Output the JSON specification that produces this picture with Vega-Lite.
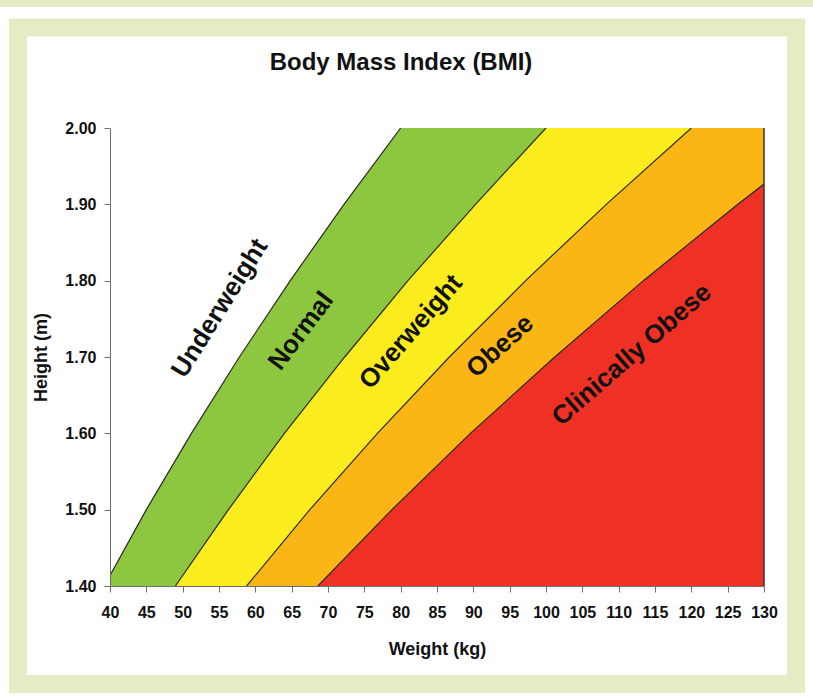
{
  "$schema": "https://vega.github.io/schema/vega-lite/v6.json",
  "width": 654,
  "height": 458,
  "autosize": {"type": "none"},
  "padding": {"left": 110, "top": 128, "right": 49, "bottom": 114},
  "background": "#ffffff",
  "title": {
    "text": "Body Mass Index (BMI)",
    "font": "Liberation Sans",
    "fontSize": 24,
    "fontWeight": "bold",
    "color": "#111111",
    "anchor": "middle",
    "frame": "group",
    "dx": -36,
    "baseline": "alphabetic",
    "offset": -94,
    "zindex": 1
  },
  "config": {
    "view": {"stroke": null},
    "font": "Liberation Sans",
    "axis": {
      "grid": false,
      "domainColor": "#6e6e6e",
      "tickColor": "#6e6e6e",
      "tickSize": 6,
      "labelFont": "Liberation Sans",
      "labelFontWeight": "bold",
      "labelFontSize": 16,
      "labelColor": "#111111",
      "titleFont": "Liberation Sans",
      "titleFontWeight": "bold",
      "titleFontSize": 18,
      "titleColor": "#111111"
    }
  },
  "datasets": {
    "bmi": [
      {"bmi": 20, "height": 1.4, "weight": 39.2},
      {"bmi": 20, "height": 1.5, "weight": 45.0},
      {"bmi": 20, "height": 1.6, "weight": 51.2},
      {"bmi": 20, "height": 1.7, "weight": 57.8},
      {"bmi": 20, "height": 1.8, "weight": 64.8},
      {"bmi": 20, "height": 1.9, "weight": 72.2},
      {"bmi": 20, "height": 2.0, "weight": 80.0},
      {"bmi": 25, "height": 1.4, "weight": 49.0},
      {"bmi": 25, "height": 1.5, "weight": 56.3},
      {"bmi": 25, "height": 1.6, "weight": 64.0},
      {"bmi": 25, "height": 1.7, "weight": 72.3},
      {"bmi": 25, "height": 1.8, "weight": 81.0},
      {"bmi": 25, "height": 1.9, "weight": 90.3},
      {"bmi": 25, "height": 2.0, "weight": 100.0},
      {"bmi": 30, "height": 1.4, "weight": 58.8},
      {"bmi": 30, "height": 1.5, "weight": 67.5},
      {"bmi": 30, "height": 1.6, "weight": 76.8},
      {"bmi": 30, "height": 1.7, "weight": 86.7},
      {"bmi": 30, "height": 1.8, "weight": 97.2},
      {"bmi": 30, "height": 1.9, "weight": 108.3},
      {"bmi": 30, "height": 2.0, "weight": 120.0},
      {"bmi": 35, "height": 1.4, "weight": 68.6},
      {"bmi": 35, "height": 1.5, "weight": 78.8},
      {"bmi": 35, "height": 1.6, "weight": 89.6},
      {"bmi": 35, "height": 1.7, "weight": 101.2},
      {"bmi": 35, "height": 1.8, "weight": 113.4},
      {"bmi": 35, "height": 1.9, "weight": 126.4},
      {"bmi": 35, "height": 2.0, "weight": 140.0}
    ],
    "labels": [
      {"label": "Underweight", "weight": 55.1, "height": 1.764},
      {"label": "Normal", "weight": 66.3, "height": 1.734},
      {"label": "Overweight", "weight": 81.4, "height": 1.733},
      {"label": "Obese", "weight": 93.7, "height": 1.714},
      {"label": "Clinically Obese", "weight": 111.8, "height": 1.703}
    ]
  },
  "layer": [
    {
      "encoding": {
        "x": {
          "field": "weight",
          "type": "quantitative",
          "scale": {"domain": [40, 130], "nice": false, "zero": false},
          "title": "Weight (kg)",
          "axis": {
            "values": [40, 45, 50, 55, 60, 65, 70, 75, 80, 85, 90, 95, 100, 105, 110, 115, 120, 125, 130],
            "labelPadding": 12,
            "titlePadding": 20,
            "labelFlush": false,
            "labelOverlap": false,
            "zindex": 2
          }
        },
        "y": {
          "field": "height",
          "type": "quantitative",
          "scale": {"domain": [1.4, 2.0], "nice": false, "zero": false},
          "title": "Height (m)",
          "axis": {
            "values": [1.4, 1.5, 1.6, 1.7, 1.8, 1.9, 2.0],
            "format": ".2f",
            "labelPadding": 8,
            "titlePadding": 14,
            "labelFlush": false,
            "labelOverlap": false,
            "zindex": 2
          }
        }
      },
      "layer": [
        {
          "data": {"name": "bmi"},
          "transform": [{"filter": "datum.bmi == 20"}],
          "mark": {"type": "area", "orient": "horizontal", "color": "#8dc63f", "clip": true},
          "encoding": {"x2": {"datum": 145}}
        },
        {
          "data": {"name": "bmi"},
          "transform": [{"filter": "datum.bmi == 25"}],
          "mark": {"type": "area", "orient": "horizontal", "color": "#fbed1d", "clip": true},
          "encoding": {"x2": {"datum": 145}}
        },
        {
          "data": {"name": "bmi"},
          "transform": [{"filter": "datum.bmi == 30"}],
          "mark": {"type": "area", "orient": "horizontal", "color": "#fbb616", "clip": true},
          "encoding": {"x2": {"datum": 145}}
        },
        {
          "data": {"name": "bmi"},
          "transform": [{"filter": "datum.bmi == 35"}],
          "mark": {"type": "area", "orient": "horizontal", "color": "#ee3124", "clip": true},
          "encoding": {"x2": {"datum": 145}}
        },
        {
          "data": {"name": "bmi"},
          "mark": {"type": "line", "color": "#2a2a2a", "strokeWidth": 1.2, "clip": true},
          "encoding": {
            "detail": {"field": "bmi", "type": "nominal"},
            "order": {"field": "height", "type": "quantitative"}
          }
        },
        {
          "data": {"name": "labels"},
          "transform": [{"filter": "datum.label == 'Underweight'"}],
          "mark": {"type": "text", "angle": 302, "fontSize": 26, "fontWeight": "bold", "font": "Liberation Sans", "color": "#111111", "align": "center", "baseline": "middle"},
          "encoding": {"text": {"field": "label"}}
        },
        {
          "data": {"name": "labels"},
          "transform": [{"filter": "datum.label == 'Normal'"}],
          "mark": {"type": "text", "angle": 307, "fontSize": 26, "fontWeight": "bold", "font": "Liberation Sans", "color": "#111111", "align": "center", "baseline": "middle"},
          "encoding": {"text": {"field": "label"}}
        },
        {
          "data": {"name": "labels"},
          "transform": [{"filter": "datum.label == 'Overweight'"}],
          "mark": {"type": "text", "angle": 311, "fontSize": 26, "fontWeight": "bold", "font": "Liberation Sans", "color": "#111111", "align": "center", "baseline": "middle"},
          "encoding": {"text": {"field": "label"}}
        },
        {
          "data": {"name": "labels"},
          "transform": [{"filter": "datum.label == 'Obese'"}],
          "mark": {"type": "text", "angle": 318, "fontSize": 26, "fontWeight": "bold", "font": "Liberation Sans", "color": "#111111", "align": "center", "baseline": "middle"},
          "encoding": {"text": {"field": "label"}}
        },
        {
          "data": {"name": "labels"},
          "transform": [{"filter": "datum.label == 'Clinically Obese'"}],
          "mark": {"type": "text", "angle": 319, "fontSize": 26, "fontWeight": "bold", "font": "Liberation Sans", "color": "#111111", "align": "center", "baseline": "middle"},
          "encoding": {"text": {"field": "label"}}
        }
      ]
    },
    {
      "data": {"values": [{}]},
      "mark": {"type": "rule", "color": "#333333", "strokeWidth": 1.5},
      "encoding": {
        "x": {
          "datum": 130,
          "type": "quantitative",
          "title": "Weight (kg)",
          "axis": {
            "values": [40, 45, 50, 55, 60, 65, 70, 75, 80, 85, 90, 95, 100, 105, 110, 115, 120, 125, 130],
            "labelPadding": 12,
            "titlePadding": 20,
            "labelFlush": false,
            "labelOverlap": false,
            "zindex": 2
          }
        }
      }
    },
    {
      "data": {"values": [{}]},
      "mark": {"type": "rect", "color": "#e3ecc3"},
      "encoding": {
        "x": {
          "datum": 24.0,
          "type": "quantitative",
          "title": "Weight (kg)",
          "axis": {
            "values": [40, 45, 50, 55, 60, 65, 70, 75, 80, 85, 90, 95, 100, 105, 110, 115, 120, 125, 130],
            "labelPadding": 12,
            "titlePadding": 20,
            "labelFlush": false,
            "labelOverlap": false,
            "zindex": 2
          }
        },
        "x2": {"datum": 138.0},
        "y": {
          "datum": 2.1677,
          "type": "quantitative",
          "title": "Height (m)",
          "axis": {
            "values": [1.4, 1.5, 1.6, 1.7, 1.8, 1.9, 2.0],
            "format": ".2f",
            "labelPadding": 8,
            "titlePadding": 14,
            "labelFlush": false,
            "labelOverlap": false,
            "zindex": 2
          }
        },
        "y2": {"datum": 2.1585}
      }
    },
    {
      "data": {"values": [{}]},
      "mark": {"type": "rect", "filled": false, "color": "#e3ecc3", "strokeWidth": 18, "opacity": 1},
      "encoding": {
        "x": {
          "datum": 27.34,
          "type": "quantitative",
          "title": "Weight (kg)",
          "axis": {
            "values": [40, 45, 50, 55, 60, 65, 70, 75, 80, 85, 90, 95, 100, 105, 110, 115, 120, 125, 130],
            "labelPadding": 12,
            "titlePadding": 20,
            "labelFlush": false,
            "labelOverlap": false,
            "zindex": 2
          }
        },
        "x2": {"datum": 134.4},
        "y": {
          "datum": 2.1317,
          "type": "quantitative",
          "title": "Height (m)",
          "axis": {
            "values": [1.4, 1.5, 1.6, 1.7, 1.8, 1.9, 2.0],
            "format": ".2f",
            "labelPadding": 8,
            "titlePadding": 14,
            "labelFlush": false,
            "labelOverlap": false,
            "zindex": 2
          }
        },
        "y2": {"datum": 1.2716}
      }
    }
  ]
}
